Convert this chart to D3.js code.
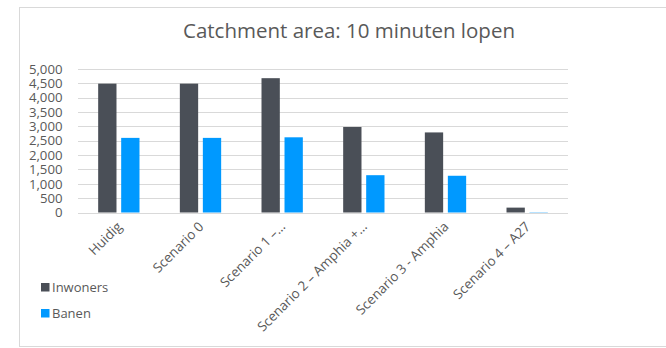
<!DOCTYPE html>
<html>
<head>
<meta charset="utf-8">
<script src="https://cdn.jsdelivr.net/npm/d3@7"></script>
<style>
  html, body { margin: 0; padding: 0; background: #fff; }
  svg { display: block; font-family: "Open Sans", "Noto Sans", sans-serif; }
</style>
</head>
<body>
<svg id="chart" width="666" height="348"></svg>
<script>
// Chart data
const categories = ["Huidig", "Scenario 0", "Scenario 1 –…", "Scenario 2 – Amphia +…", "Scenario 3 - Amphia", "Scenario 4 – A27"];
const seriesNames = ["Inwoners", "Banen"];
const inwoners = [4490, 4490, 4680, 2980, 2790, 170];
const banen = [2600, 2600, 2620, 1300, 1280, 10];
const yTicks = [0, 500, 1000, 1500, 2000, 2500, 3000, 3500, 4000, 4500, 5000];
const titleText = "Catchment area: 10 minuten lopen";

const colors = { Inwoners: "#4a4f57", Banen: "#0099ff" };
const seriesValues = { Inwoners: inwoners, Banen: banen };

const svg = d3.select("#chart");
const plot = { left: 78, right: 568, top: 69, bottom: 212.5 };

// Outer chart frame
svg.append("rect")
  .attr("x", 19.5).attr("y", 7.5)
  .attr("width", 660).attr("height", 339)
  .attr("fill", "#fff").attr("stroke", "#d9d9d9").attr("stroke-width", 1);

// Title
svg.append("text")
  .attr("x", 349).attr("y", 38)
  .attr("text-anchor", "middle")
  .attr("font-size", 20.5)
  .attr("fill", "#595959")
  .text(titleText);

const y = d3.scaleLinear().domain([0, 5000]).range([plot.bottom, plot.top]);
const x0 = d3.scaleBand().domain(categories).range([plot.left, plot.right])
  .paddingInner(0.494).paddingOuter(0.247);
const x1 = d3.scaleBand().domain(seriesNames).range([0, x0.bandwidth()])
  .paddingInner(0.204);

// Gridlines
svg.append("g")
  .selectAll("line")
  .data(yTicks)
  .join("line")
  .attr("x1", plot.left).attr("x2", plot.right)
  .attr("y1", d => Math.round(y(d)) + 0.5).attr("y2", d => Math.round(y(d)) + 0.5)
  .attr("stroke", "#d9d9d9").attr("stroke-width", 1);

// Y axis labels
const yAxis = d3.axisLeft(y).tickValues(yTicks).tickSize(0).tickPadding(0)
  .tickFormat(d3.format(","));
svg.append("g")
  .attr("transform", `translate(${plot.left - 15.5},0)`)
  .call(yAxis)
  .call(g => g.select(".domain").remove())
  .call(g => g.selectAll("text")
    .attr("font-family", "\"Open Sans\", sans-serif")
    .attr("font-size", 13.2)
    .attr("fill", "#595959"));

// Bars
const groups = svg.append("g")
  .selectAll("g")
  .data(categories)
  .join("g")
  .attr("transform", d => `translate(${x0(d)},0)`);

groups.selectAll("rect")
  .data((c, i) => seriesNames.map(s => ({ s, v: seriesValues[s][i] })))
  .join("rect")
  .attr("x", d => x1(d.s))
  .attr("width", x1.bandwidth())
  .attr("y", d => y(d.v))
  .attr("height", d => plot.bottom - y(d.v))
  .attr("fill", d => colors[d.s]);

// X axis category labels, rotated
const xAxis = d3.axisBottom(x0).tickSize(0).tickPadding(0);
svg.append("g")
  .attr("transform", `translate(0,${plot.bottom})`)
  .call(xAxis)
  .call(g => g.select(".domain").remove())
  .call(g => g.selectAll("text")
    .attr("font-family", "\"Open Sans\", sans-serif")
    .attr("font-size", 13.4)
    .attr("fill", "#595959")
    .attr("text-anchor", "end")
    .attr("dy", null)
    .attr("transform", "translate(4,15) rotate(-45)"));

// Legend
const legend = svg.append("g").selectAll("g")
  .data(seriesNames)
  .join("g")
  .attr("transform", (d, i) => `translate(41,${283 + i * 26})`);
legend.append("rect")
  .attr("width", 8.5).attr("height", 8.5)
  .attr("fill", d => colors[d]);
legend.append("text")
  .attr("x", 11).attr("y", 8.8)
  .attr("font-size", 13)
  .attr("fill", "#595959")
  .text(d => d);
</script>
</body>
</html>
